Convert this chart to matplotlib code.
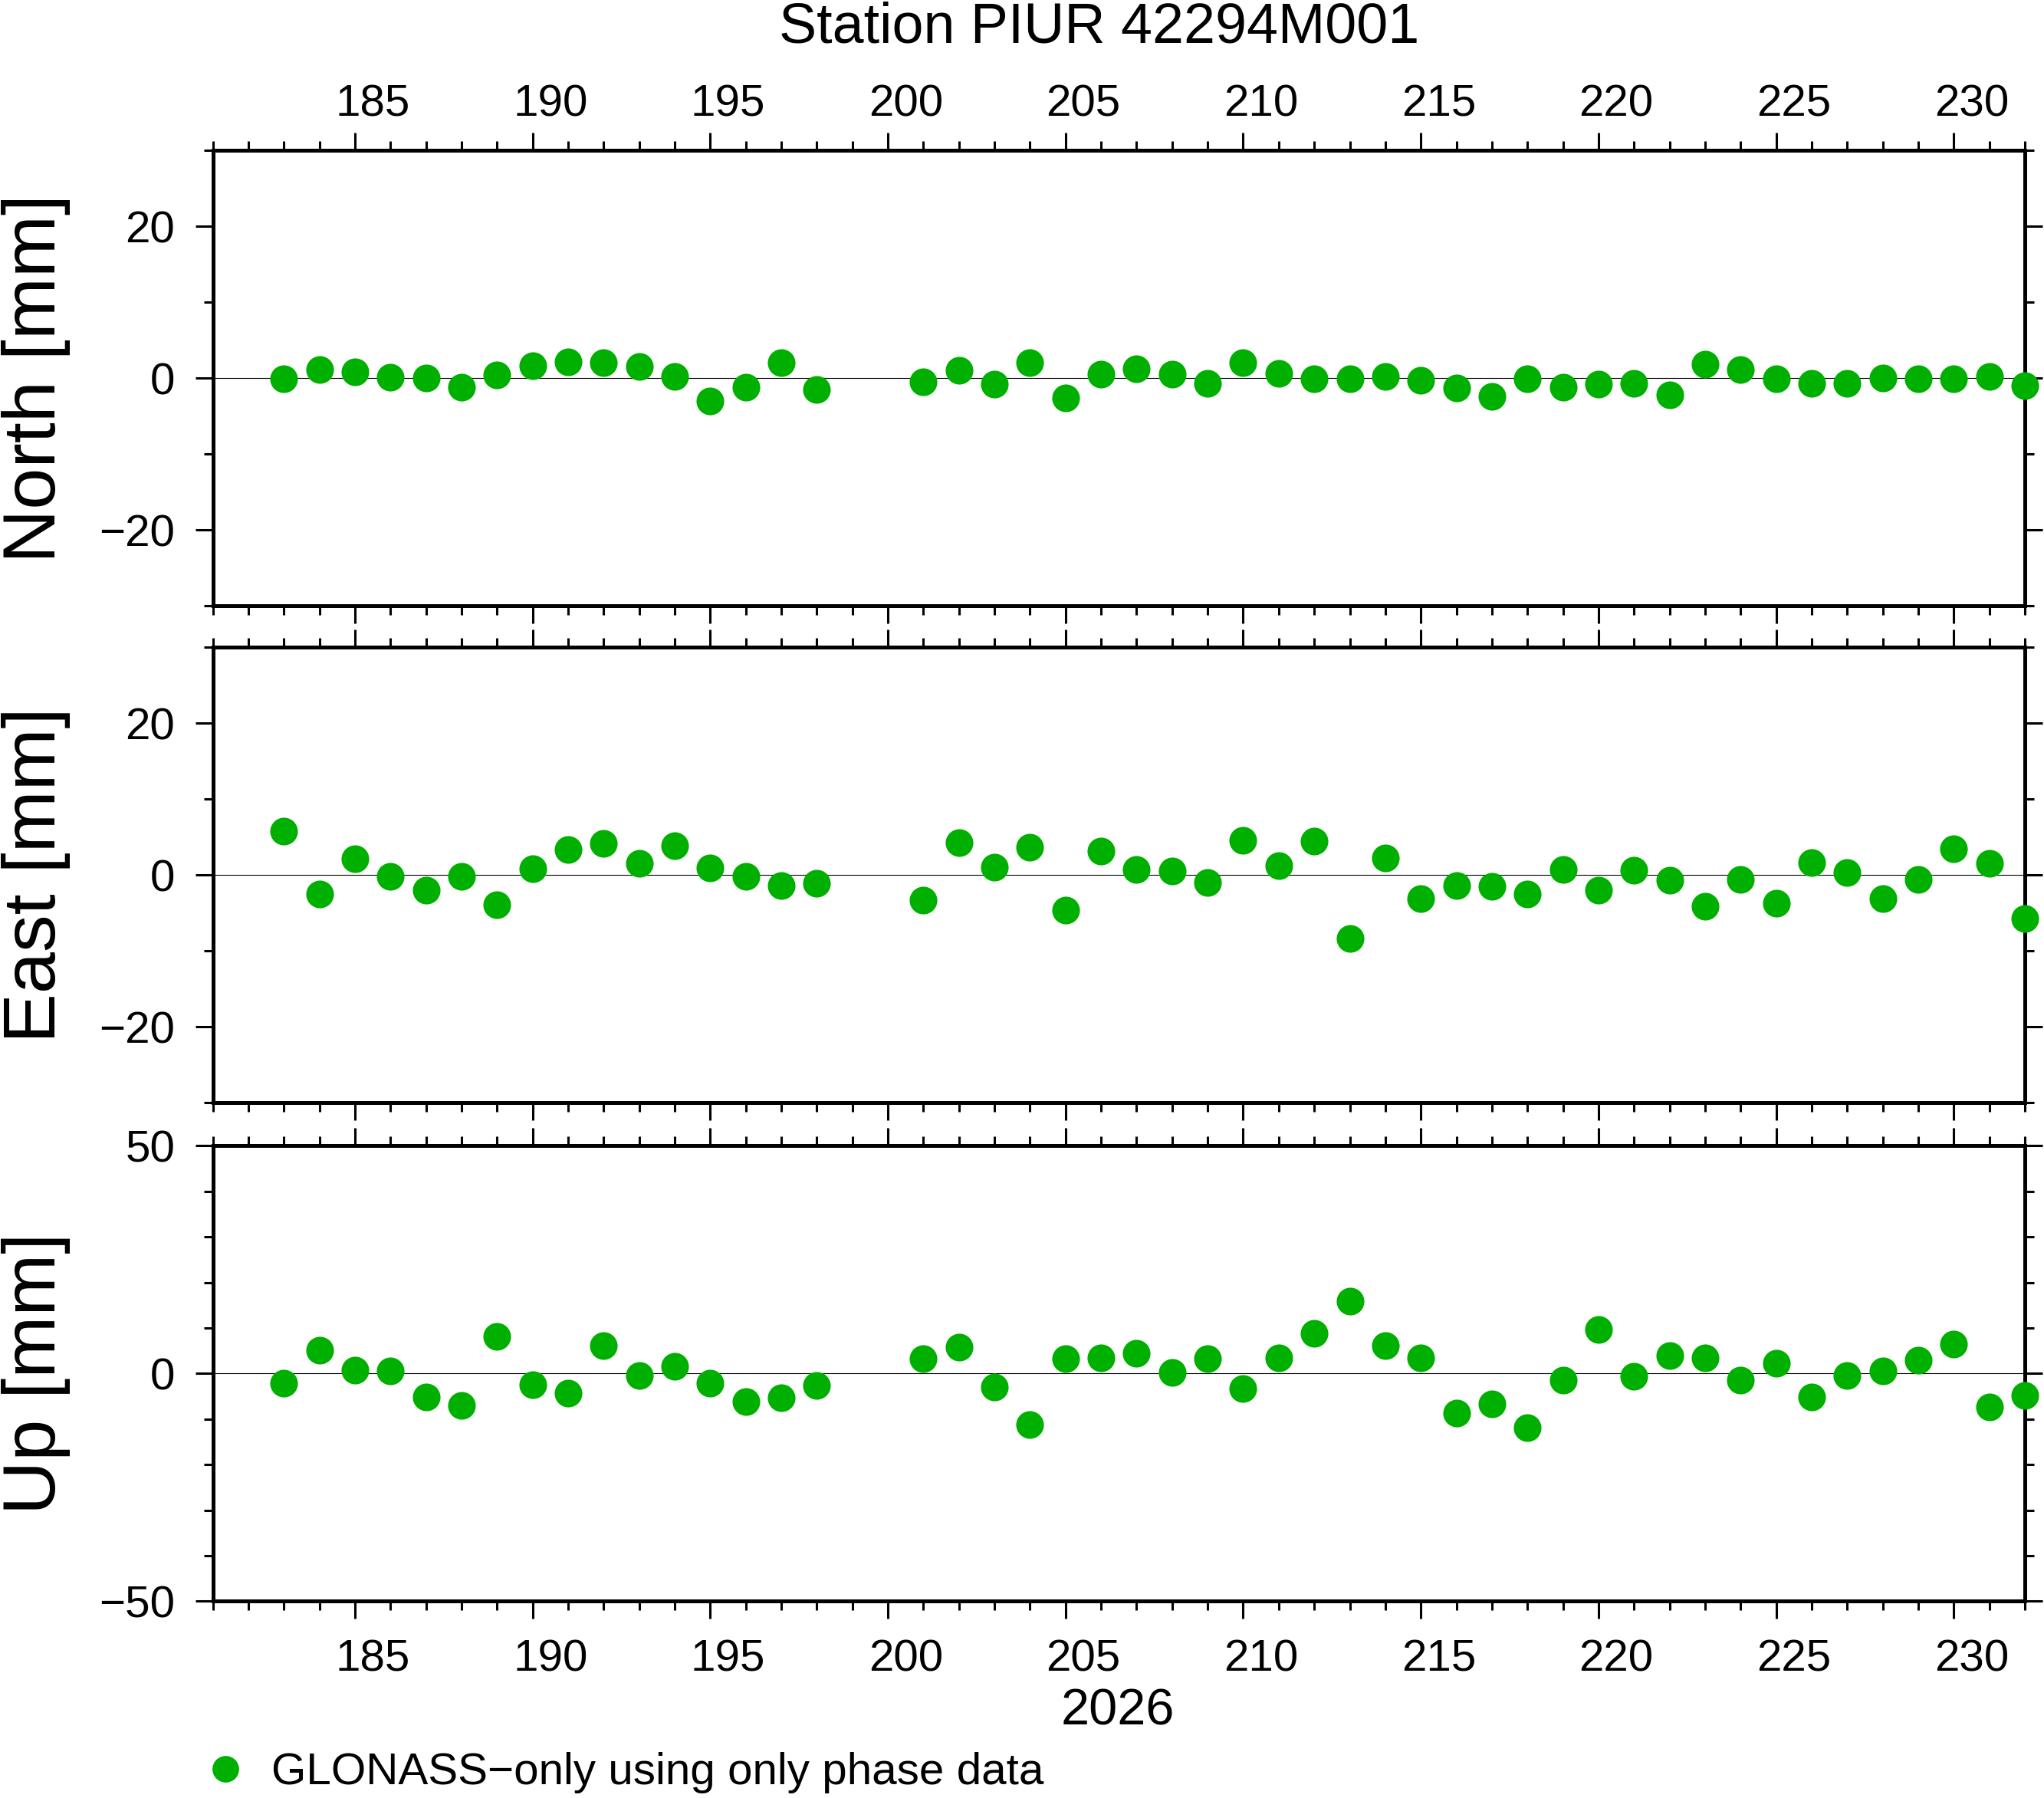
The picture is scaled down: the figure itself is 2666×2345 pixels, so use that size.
import matplotlib
matplotlib.use("Agg")
import matplotlib.pyplot as plt
from matplotlib.ticker import MultipleLocator
from matplotlib.lines import Line2D
from matplotlib.transforms import ScaledTranslation

plt.rcParams["font.family"] = ["Liberation Sans", "DejaVu Sans"]

# ==========================================
# DATA - day of year 2026, residuals in mm
# ==========================================
station = "Station PIUR 42294M001"
year_label = "2026"
legend_label = "GLONASS\u2212only using only phase data"

days = list(range(183, 199)) + list(range(201, 233))

north = [-0.1, 1.1, 0.8, 0.1, 0.0, -1.2, 0.4, 1.6, 2.2, 2.0, 1.5, 0.2, -3.0, -1.2, 2.1, -1.5,
         -0.5, 1.0, -0.8, 2.1, -2.6, 0.5, 1.2, 0.5, -0.7, 2.1, 0.6, -0.1, -0.1, 0.2, -0.3, -1.3,
         -2.4, -0.1, -1.2, -0.8, -0.7, -2.2, 1.8, 1.1, -0.1, -0.7, -0.7, 0.0, -0.1, -0.1, 0.2, -1.0]

east = [5.8, -2.5, 2.2, -0.2, -2.0, -0.2, -3.9, 0.8, 3.4, 4.2, 1.5, 3.9, 0.9, -0.2, -1.4, -1.1,
        -3.3, 4.3, 1.0, 3.7, -4.6, 3.2, 0.7, 0.5, -1.0, 4.6, 1.2, 4.5, -8.4, 2.3, -3.1, -1.4,
        -1.5, -2.5, 0.7, -2.0, 0.6, -0.7, -4.1, -0.6, -3.7, 1.6, 0.3, -3.1, -0.6, 3.5, 1.5, -5.7]

up = [-2.1, 5.1, 0.8, 0.6, -5.1, -7.0, 8.1, -2.4, -4.4, 6.1, -0.5, 1.5, -2.2, -6.1, -5.3, -2.6,
      3.2, 5.7, -2.9, -11.2, 3.3, 3.4, 4.4, 0.3, 3.2, -3.4, 3.4, 8.8, 15.8, 6.1, 3.4, -8.7,
      -6.6, -11.9, -1.4, 9.6, -0.7, 4.0, 3.4, -1.4, 2.2, -5.1, -0.5, 0.6, 2.9, 6.4, -7.3, -4.9]

panels = [
    ("North [mm]", north, 30, 20),
    ("East [mm]", east, 30, 20),
    ("Up [mm]", up, 50, 50),
]

x_min, x_max = 181, 232
dot_color = "#00b000"

# ==========================================
# FIGURE
# ==========================================
W, H = 2666, 2345
fig = plt.figure(figsize=(W / 100, H / 100), dpi=100)

left = 277.6 / W
width = (2641 - 277.6) / W
panel_h = 594 / H
bottoms = [1 - 790.3 / H, 1 - 1438.3 / H, 1 - 2088.3 / H]

# day labels sit in the middle of the day interval (half a day right of the tick)
label_shift = ScaledTranslation(0.5 * (width * W / (x_max - x_min)) / 100, 0, fig.dpi_scale_trans)

for i, (name, vals, lim, major) in enumerate(panels):
    ax = fig.add_axes([left, bottoms[i], width, panel_h])

    ax.axhline(0, color="black", lw=0.8, zorder=1)
    ax.plot(days, vals, "o", color=dot_color, ms=26, mew=0, clip_on=False, zorder=3)

    ax.set_xlim(x_min, x_max)
    ax.set_ylim(-lim, lim)
    ax.xaxis.set_major_locator(MultipleLocator(5))
    ax.xaxis.set_minor_locator(MultipleLocator(1))
    ax.yaxis.set_major_locator(MultipleLocator(major))
    ax.yaxis.set_minor_locator(MultipleLocator(10))

    for sp in ax.spines.values():
        sp.set_linewidth(3.6)

    ax.tick_params(which="both", direction="out", width=2.2, colors="black",
                   top=True, bottom=True, left=True, right=True,
                   labeltop=(i == 0), labelbottom=(i == 2),
                   labelleft=True, labelright=False, labelsize=42)
    ax.tick_params(which="major", length=16.6)
    ax.tick_params(which="minor", length=8.3)
    ax.tick_params(axis="y", which="both", pad=19)
    ax.tick_params(axis="x", which="both", pad=7 if i == 0 else 19)

    for tick in ax.xaxis.get_major_ticks():
        tick.label1.set_transform(tick.label1.get_transform() + label_shift)
        tick.label2.set_transform(tick.label2.get_transform() + label_shift)

    ax.set_ylabel(name, fontsize=70, va="center")
    ax.yaxis.set_label_coords((47 - 277.6) / (2641 - 277.6), 0.5)

fig.text(1434 / W, 1 - 56 / H, station, fontsize=53, ha="center", va="baseline")
fig.text(1458 / W, 1 - 2250 / H, year_label, fontsize=48, ha="center", va="baseline")

handle = Line2D([], [], ls="none", marker="o", ms=25, mew=0, color=dot_color)
fig.legend(handles=[handle], labels=[legend_label], loc="center left",
           bbox_to_anchor=(265 / W, 1 - 2312 / H), frameon=False, fontsize=42,
           handlelength=1.0, handletextpad=0.53, borderpad=0, borderaxespad=0)

fig.savefig("out.png", dpi=100)
